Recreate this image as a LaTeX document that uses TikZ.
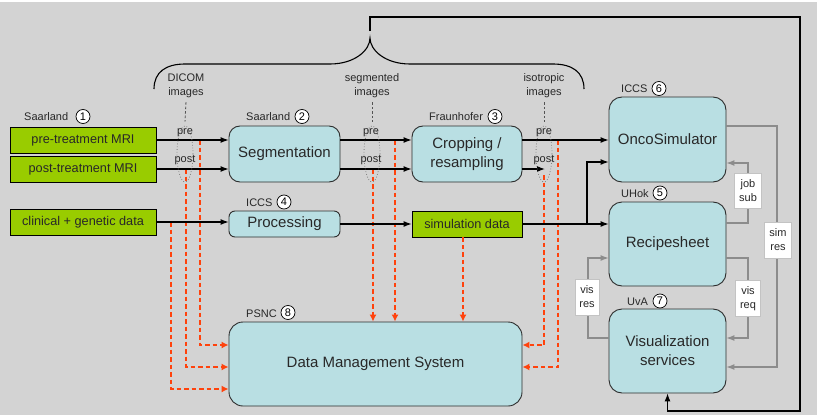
\documentclass[tikz,border=0pt]{standalone}
\usepackage{fontspec}
\setmainfont{Liberation Sans}
\usetikzlibrary{arrows.meta,shapes.geometric}
\definecolor{bgc}{RGB}{211,211,211}
\definecolor{boxfill}{RGB}{185,223,227}
\definecolor{boxline}{RGB}{45,45,45}
\definecolor{grn}{RGB}{153,204,0}
\definecolor{rdc}{RGB}{255,66,12}
\definecolor{grl}{RGB}{140,140,140}
\definecolor{labline}{RGB}{195,195,195}
\definecolor{txt}{RGB}{40,40,40}
\begin{document}
\begin{tikzpicture}[x=1pt,y=-1pt,
  gbox/.style={draw=black, fill=grn, line width=0.8pt, inner sep=0pt, text=txt, font=\fontsize{12.7}{15}\selectfont},
  bbox/.style={draw=boxline, fill=boxfill, rounded corners=11pt, line width=0.9pt, inner sep=0pt, align=center, text=txt, font=\fontsize{15}{19}\selectfont},
  org/.style={font=\fontsize{11}{13}\selectfont, inner sep=0pt, anchor=base west, text=txt},
  num/.style={circle, draw=black, fill=white, line width=0.7pt, minimum size=14pt, inner sep=0pt, font=\fontsize{11}{11}\selectfont},
  blk/.style={draw=black, line width=1.1pt, -{Latex[length=8pt,width=6pt]}},
  rd/.style={draw=rdc, line width=1.3pt, dash pattern=on 4.5pt off 3pt, -{Latex[length=7pt,width=7pt]}},
  gr/.style={draw=grl, line width=1.1pt, -{Latex[length=8pt,width=6pt]}},
  lab/.style={draw=labline, fill=white, line width=0.8pt, minimum width=26pt, minimum height=35pt, inner sep=0pt, align=center, text=txt, font=\fontsize{11}{14}\selectfont},
  small/.style={font=\fontsize{11}{14}\selectfont, align=center, inner sep=0pt, text=txt},
  ell/.style={ellipse, draw=gray, dotted, line width=0.8pt, minimum width=16pt, minimum height=56pt, inner sep=0pt},
  dk/.style={draw=txt!80!white, line width=0.9pt, dash pattern=on 2.5pt off 2pt}
]
\useasboundingbox (0,0) rectangle (817,415);
\fill[white] (0,0) rectangle (817,415);
\fill[bgc] (0,2) rectangle (817,415);

% boxes
\node[gbox, minimum width=146pt, minimum height=26pt] (pre) at (83,140) {pre-treatment MRI};
\node[gbox, minimum width=146pt, minimum height=26pt] (post) at (83,169) {post-treatment MRI};
\node[gbox, minimum width=146pt, minimum height=26pt] (clin) at (83,222) {clinical + genetic data};
\node[bbox, minimum width=111pt, minimum height=56pt] (seg) at (284.5,154) {Segmentation};
\node[bbox, minimum width=110pt, minimum height=56pt] (crop) at (467,154) {Cropping /\\resampling};
\node[bbox, rounded corners=6pt, minimum width=111pt, minimum height=26pt] (proc) at (284.5,224) {Processing};
\node[gbox, minimum width=110pt, minimum height=26pt] (sim) at (467,224) {simulation data};
\node[bbox, rounded corners=14pt, minimum width=293pt, minimum height=84pt] (dms) at (375.5,364) {Data Management System};
\node[bbox, rounded corners=13pt, minimum width=117pt, minimum height=85pt] (onco) at (667.5,139.5) {OncoSimulator};
\node[bbox, rounded corners=13pt, minimum width=117pt, minimum height=84pt] (rec) at (667.5,244) {Recipesheet};
\node[bbox, rounded corners=13pt, minimum width=117pt, minimum height=84pt] (vis) at (667.5,351) {Visualization\\services};

% organisation labels
\node[org] (o1) at (24,120) {Saarland};
\node[num] (n1) at (83,116.5) {1};
\node[org] (o2) at (246,120) {Saarland};
\node[num] (n2) at (302,116.5) {2};
\node[org] (o3) at (429,120) {Fraunhofer};
\node[num] (n3) at (495,116.5) {3};
\node[org] (o4) at (246,206) {ICCS};
\node[num] (n4) at (284,202) {4};
\node[org] (o8) at (246,317) {PSNC};
\node[num] (n8) at (288,312.5) {8};
\node[org] (o6) at (621,92) {ICCS};
\node[num] (n6) at (659,88.5) {6};
\node[org] (o5) at (621,197) {UHok};
\node[num] (n5) at (660,193) {5};
\node[org] (o7) at (627,305) {UvA};
\node[num] (n7) at (660,301) {7};

% red dashed data-management flows
\draw[rd] (200,140) -- (200,345) -- (dms.west |- 0,345);
\draw[rd] (186,169) -- (186,367) -- (dms.west |- 0,367);
\draw[rd] (171,222) -- (171,389) -- (dms.west |- 0,389);
\draw[rd] (373,169) -- (dms.north -| 373,0);
\draw[rd] (395,140) -- (dms.north -| 395,0);
\draw[rd] ([xshift=-4pt]sim.south) -- (dms.north -| 463,0);
\draw[rd] (544,175) -- (544,345) -- (dms.east |- 0,345);
\draw[rd] (558,140) -- (558,367) -- (dms.east |- 0,367);

% black flows
\draw[blk] (pre.east) -- (pre.east -| seg.west);
\draw[blk] (post.east) -- (post.east -| seg.west);
\draw[blk] (seg.east |- pre.east) -- (crop.west |- pre.east);
\draw[blk] (seg.east |- post.east) -- (crop.west |- post.east);
\draw[blk] (crop.east |- pre.east) -- (onco.west |- pre.east);
\draw[blk] (crop.east |- post.east) -- (545,169);
\draw[blk] (clin.east) -- (clin.east -| proc.west);
\draw[blk] (proc.east) -- (sim.west);
\draw[blk] (sim.east) -- (sim.east -| rec.west);
\draw[blk] (sim.east -| 587,0) |- (onco.west |- 0,162);
\draw[blk] (370,31) |- (800,17) |- (667.5,411) -- (vis.south);

% brace
\draw[black, line width=1.1pt] (154,89) .. controls (154,72) and (166,64) .. (185,64) -- (330,64)
  .. controls (355,64) and (370,50) .. (370,38)
  .. controls (370,50) and (385,64) .. (410,64) -- (553,64)
  .. controls (572,64) and (584,72) .. (584,89);

% gray flows
\draw[gr] (onco.east |- 0,126) -- (777,126) -- (777,367) -- (vis.east |- 0,367);
\draw[gr] (rec.east |- 0,223) -- (748,223) -- (748,163) -- (onco.east |- 0,163);
\draw[gr] (rec.east |- 0,258) -- (748,258) -- (748,338) -- (vis.east |- 0,338);
\draw[gr] (vis.west |- 0,338) -- (588,338) -- (588,258) -- (rec.west |- 0,258);
\node[lab, minimum width=27pt, minimum height=35pt] (jobsub) at (748,191) {job\\sub};
\node[lab, minimum width=27pt, minimum height=36pt] (simres) at (778,240) {sim\\res};
\node[lab, minimum width=25pt, minimum height=36pt] (visreq) at (748,298.5) {vis\\req};
\node[lab, minimum width=24pt, minimum height=36pt] (visres) at (587,297) {vis\\res};

% image groups
\node[ell] (e1) at (185,154) {};
\node[ell] (e2) at (372,154) {};
\node[ell] (e3) at (544,154) {};
\node[small] (d1) at (186,86) {DICOM\\images};
\node[small] (d2) at (372,86) {segmented\\images};
\node[small] (d3) at (544,86) {isotropic\\images};
\draw[dk] ([yshift=-4pt]d1.south) -- ([yshift=4pt]e1.north);
\draw[dk] ([yshift=-4pt]d2.south) -- ([yshift=4pt]e2.north);
\draw[dk] ([yshift=-4pt]d3.south) -- ([yshift=4pt]e3.north);
\node[small] (p1) at (185,133) {pre};
\node[small] (q1) at (185,160) {post};
\node[small] (p2) at (371,133) {pre};
\node[small] (q2) at (371,160) {post};
\node[small] (p3) at (544,133) {pre};
\node[small] (q3) at (544,160) {post};
\end{tikzpicture}
\end{document}
